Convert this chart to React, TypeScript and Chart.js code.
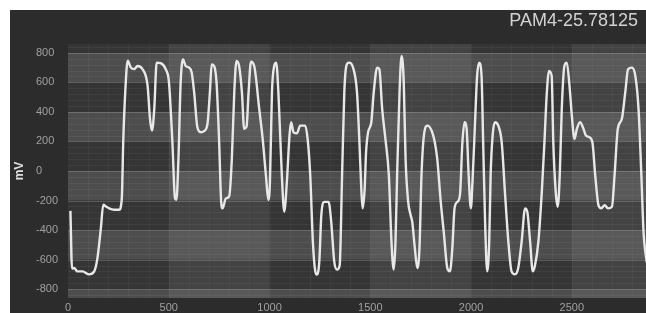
import React, { useEffect, useRef } from "react";
import { Chart, registerables } from "chart.js";

Chart.register(...registerables);

const chartTitle = "PAM4-25.78125";
const yAxisTitle = "mV";

const xTicks = [0, 500, 1000, 1500, 2000, 2500];
const yTicks = [-800, -600, -400, -200, 0, 200, 400, 600, 800];

const sampleIndex = [
  12, 20, 30, 47, 72, 105, 130, 146, 163, 175, 188, 204, 229, 254, 267, 274, 284, 296, 312, 329,
  345, 370, 395, 407, 417, 428, 440, 460, 485, 501, 518, 531, 538, 548, 559, 571, 584, 601, 614, 626,
  642, 659, 675, 692, 704, 713, 725, 737, 750, 760, 767, 783, 800, 813, 825, 836, 849, 863, 874, 886,
  896, 908, 924, 949, 966, 982, 994, 1002, 1012, 1023, 1033, 1044, 1061, 1073, 1086, 1099, 1107, 1119, 1136, 1152,
  1177, 1189, 1202, 1215, 1227, 1235, 1247, 1257, 1272, 1293, 1306, 1321, 1335, 1348, 1360, 1371, 1381, 1393, 1417, 1434,
  1446, 1456, 1462, 1472, 1479, 1489, 1505, 1517, 1534, 1545, 1559, 1575, 1592, 1605, 1616, 1625, 1633, 1645, 1655, 1666,
  1675, 1688, 1700, 1708, 1721, 1733, 1744, 1754, 1766, 1783, 1804, 1820, 1832, 1849, 1865, 1882, 1895, 1907, 1918, 1932,
  1945, 1957, 1968, 1978, 1988, 1999, 2007, 2019, 2030, 2040, 2052, 2060, 2070, 2080, 2090, 2097, 2107, 2118, 2135, 2152,
  2168, 2185, 2201, 2218, 2234, 2251, 2268, 2279, 2293, 2306, 2317, 2334, 2351, 2364, 2376, 2387, 2400, 2408, 2420, 2430,
  2440, 2450, 2463, 2475, 2487, 2500, 2513, 2525, 2541, 2558, 2570, 2586, 2602, 2616, 2632, 2646, 2663, 2679, 2699, 2712,
  2728, 2748, 2765, 2779, 2798, 2815, 2831, 2845, 2856, 2872,
];

const millivolts = [
  -270, -660, -657, -680, -680, -700, -680, -590, -388, -229, -240, -253, -262, -262, -186, 195, 532, 747, 700, 690,
  711, 689, 577, 352, 274, 419, 734, 730, 689, 600, 195, -186, -195, 83, 600, 756, 711, 700, 666, 532,
  296, 262, 270, 318, 532, 722, 711, 600, 195, -209, -253, -186, -170, 83, 532, 745, 711, 532, 285, 300,
  532, 740, 711, 419, 217, -29, -195, -74, 532, 711, 734, 532, -29, -276, -74, 240, 330, 262, 255, 307,
  307, 217, -29, -478, -680, -702, -612, -298, -209, -209, -343, -612, -668, -640, -29, 532, 711, 734, 689, 532,
  195, -141, -253, -119, 128, 262, 330, 532, 700, 689, 419, 217, -29, -478, -668, -478, -29, 532, 779, 600,
  83, -209, -298, -343, -523, -657, -523, -29, 240, 307, 274, 195, 83, -200, -420, -657, -680, -523, -253, -209,
  -160, 195, 330, 285, -29, -253, -74, 307, 644, 734, 644, 195, -366, -680, -478, -29, 240, 330, 307, 195,
  -141, -478, -680, -700, -657, -478, -253, -276, -478, -680, -640, -478, -141, 195, 532, 678, 644, 195, -141, -242,
  -29, 419, 711, 734, 600, 375, 217, 285, 330, 285, 240, 230, 195, -29, -231, -253, -231, -253, -242, -29,
  285, 352, 532, 689, 700, 644, 419, -29, -420, -620,
];

const scopePlugin = {
  id: "scopeBackground",
  beforeDraw(chart: any) {
    const { ctx, chartArea: a, scales } = chart;
    const x = scales.x;
    const y = scales.y;
    ctx.save();
    ctx.fillStyle = "#2c2c2c";
    ctx.fillRect(0, 0, chart.width, chart.height);
    ctx.beginPath();
    ctx.rect(a.left, a.top, a.right - a.left, a.bottom - a.top);
    ctx.clip();
    for (let v = -1000; v < 1000; v += 200) {
      const upper = v + 200;
      const light = Math.abs(upper / 200) % 2 === 0;
      const yTop = y.getPixelForValue(upper);
      const yBot = y.getPixelForValue(v);
      ctx.fillStyle = light ? "#4d4d4d" : "#353535";
      ctx.fillRect(a.left, yTop, a.right - a.left, yBot - yTop);
    }
    for (let s = 500; s < 3500; s += 1000) {
      const x0 = x.getPixelForValue(s);
      const x1 = x.getPixelForValue(s + 500);
      ctx.fillStyle = "rgba(255,255,255,0.07)";
      ctx.fillRect(x0, a.top, x1 - x0, a.bottom - a.top);
    }
    ctx.lineWidth = 1;
    ctx.strokeStyle = "rgba(255,255,255,0.05)";
    for (let v = -1000; v <= 1000; v += 40) {
      const py = Math.round(y.getPixelForValue(v)) + 0.5;
      ctx.beginPath();
      ctx.moveTo(a.left, py);
      ctx.lineTo(a.right, py);
      ctx.stroke();
    }
    ctx.strokeStyle = "rgba(255,255,255,0.035)";
    for (let s = 100; s < 3000; s += 100) {
      const px = Math.round(x.getPixelForValue(s)) + 0.5;
      ctx.beginPath();
      ctx.moveTo(px, a.top);
      ctx.lineTo(px, a.bottom);
      ctx.stroke();
    }
    ctx.strokeStyle = "rgba(255,255,255,0.14)";
    for (const v of yTicks) {
      const py = Math.round(y.getPixelForValue(v)) + 0.5;
      ctx.beginPath();
      ctx.moveTo(a.left, py);
      ctx.lineTo(a.right, py);
      ctx.stroke();
    }
    ctx.restore();
  },
  afterDraw(chart: any) {
    const { ctx, chartArea: a } = chart;
    ctx.save();
    ctx.fillStyle = "#d2d2d2";
    ctx.font = "18px 'Liberation Sans', Arial, sans-serif";
    ctx.textAlign = "right";
    ctx.textBaseline = "middle";
    ctx.fillText(chartTitle, chart.width - 8, 11);
    ctx.translate(10, (a.top + a.bottom) / 2);
    ctx.rotate(-Math.PI / 2);
    ctx.font = "bold 12px 'Liberation Sans', Arial, sans-serif";
    ctx.textAlign = "center";
    ctx.fillStyle = "#e0e0e0";
    ctx.fillText(yAxisTitle, 0, 0);
    ctx.restore();
  },
};

export default function App() {
  const canvasRef = useRef<HTMLCanvasElement | null>(null);

  useEffect(() => {
    const canvas = canvasRef.current;
    if (!canvas) return;
    const points = sampleIndex.map((s, i) => ({ x: s, y: millivolts[i] }));
    const chart = new Chart(canvas, {
      type: "line",
      data: {
        datasets: [
          {
            data: points,
            borderColor: "#e8e8e8",
            borderWidth: 2.4,
            pointRadius: 0,
            cubicInterpolationMode: "monotone",
            fill: false,
            clip: 0,
          } as any,
        ],
      },
      plugins: [scopePlugin],
      options: {
        animation: false,
        responsive: false,
        devicePixelRatio: 1,
        layout: { padding: { left: 26, top: 34, right: 0, bottom: 0 } },
        plugins: {
          legend: { display: false },
          title: { display: false },
          tooltip: { enabled: false },
        },
        scales: {
          x: {
            type: "linear",
            min: 0,
            max: 2868,
            grid: { display: false, drawTicks: false },
            border: { display: false },
            afterBuildTicks: (scale: any) => {
              scale.ticks = xTicks.map((v) => ({ value: v }));
            },
            afterFit: (scale: any) => {
              scale.height = 15;
            },
            ticks: {
              color: "#a0a0a0",
              font: { size: 11, family: "'Liberation Sans', Arial, sans-serif" },
              padding: 3,
              maxRotation: 0,
              autoSkip: false,
              callback: (v: any) => String(v),
            },
          },
          y: {
            type: "linear",
            min: -860,
            max: 860,
            grid: { display: false, drawTicks: false },
            border: { display: false },
            afterBuildTicks: (scale: any) => {
              scale.ticks = yTicks.map((v) => ({ value: v }));
            },
            afterFit: (scale: any) => {
              scale.width = 32;
            },
            ticks: {
              color: "#a0a0a0",
              font: { size: 11, family: "'Liberation Sans', Arial, sans-serif" },
              padding: 0,
              crossAlign: "far",
              autoSkip: false,
              callback: (v: any) => String(v),
            },
          },
        },
      } as any,
    });
    return () => chart.destroy();
  }, []);

  return (
    <div style={{ position: "absolute", left: 10, top: 10, width: 636, height: 303, background: "#2c2c2c" }}>
      <canvas ref={canvasRef} width={636} height={303} style={{ display: "block", width: 636, height: 303 }} />
    </div>
  );
}
